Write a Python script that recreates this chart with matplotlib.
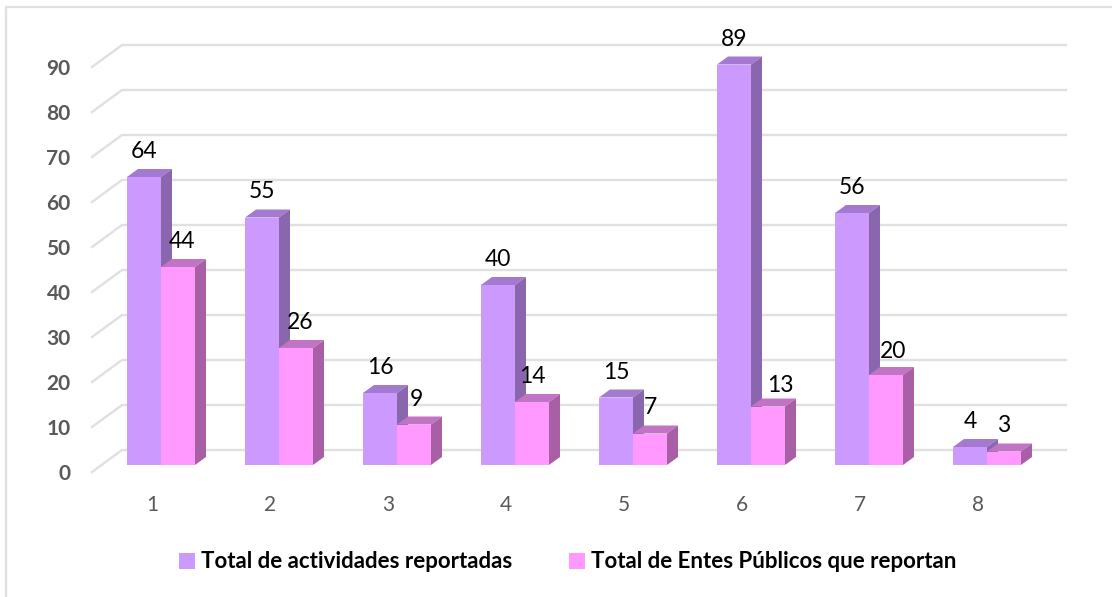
import matplotlib
matplotlib.use('Agg')
import matplotlib.pyplot as plt
from matplotlib.lines import Line2D
from matplotlib.patches import Patch, Polygon
from matplotlib.transforms import Affine2D

categories = [1, 2, 3, 4, 5, 6, 7, 8]
actividades = [64, 55, 16, 40, 15, 89, 56, 4]
entes = [44, 26, 9, 14, 7, 13, 20, 3]
y_ticks = [0, 10, 20, 30, 40, 50, 60, 70, 80, 90]
name_actividades = 'Total de actividades reportadas'
name_entes = 'Total de Entes Públicos que reportan'

plt.rcParams['font.family'] = ['Lato', 'DejaVu Sans']

W, H = 1112, 597
fig = plt.figure(figsize=(W / 100, H / 100), dpi=100)

# outer frame, only left and top are in the picture
fig.add_artist(Line2D([5.5 / W, 5.5 / W, 1], [0, 1 - 7 / H, 1 - 7 / H], transform=fig.transFigure,
                      color='#E0E0E0', linewidth=1.6))

# pixels of the picture
left, right, top, base = 92, 1066, 45, 465
ax = fig.add_axes([left / W, 1 - base / H, (right - left) / W, (base - top) / H])

# one category = 118 px, one unit of value = 4.5 px
px_x = 1 / 118
px_y = 1 / 4.5
ax.set_xlim(1 + (left - 161) * px_x, 1 + (right - 161) * px_x)
ax.set_ylim(0, (base - top) * px_y)
for sp in ax.spines.values():
    sp.set_visible(False)

# walls
for v in y_ticks:
    xl = ax.get_xlim()[0]
    ax.plot([xl, xl + 30 * px_x, ax.get_xlim()[1]],
            [v - 7 * px_y, v + 15 * px_y, v + 15 * px_y],
            color='#E0E0E0', lw=1.7, clip_on=False, zorder=1, solid_joinstyle='round')

ax.set_xticks(categories)
ax.set_yticks(y_ticks)
ax.tick_params(axis='both', length=0)
ax.tick_params(axis='x', pad=21.5, labelsize=15, labelcolor='#595959')
ax.tick_params(axis='y', pad=15.5, labelsize=15, labelcolor='#595959')
shift_y = Affine2D().translate(0, -7)
shift_x = Affine2D().translate(-9, 0)
for t in ax.get_yticklabels():
    t.set_fontweight('bold')
    t.set_transform(t.get_transform() + shift_y)
for t in ax.get_xticklabels():
    t.set_transform(t.get_transform() + shift_x)

bar_w = 34 * px_x
dx = 11 * px_x
dy = 8 * px_y


def draw_bars(xs, values, front, top_c, side_c, z):
    ax.bar(xs, values, width=bar_w, color=front, edgecolor='none', zorder=z)
    for x, v in zip(xs, values):
        x0 = x - bar_w / 2
        x1 = x + bar_w / 2
        ax.add_patch(Polygon([(x0, v), (x0 + dx, v + dy), (x1 + dx, v + dy), (x1, v)],
                             facecolor=top_c, edgecolor='none', zorder=z, clip_on=False))
        ax.add_patch(Polygon([(x1, 0), (x1 + dx, dy), (x1 + dx, v + dy), (x1, v)],
                             facecolor=side_c, edgecolor='none', zorder=z, clip_on=False))


x1s = [c - bar_w / 2 for c in categories]
x2s = [c + bar_w / 2 for c in categories]
draw_bars(x1s, actividades, '#CC99FF', '#A47AD0', '#8A66AE', 2)
draw_bars(x2s, entes, '#FF99FF', '#C274C4', '#A95FA6', 3)

# data labels, a few sit off the default place in the original
nudge = {(1, 0): (4, 0), (1, 1): (4, 0), (1, 2): (2, 0), (1, 5): (12, -5), (1, 6): (7, -2)}
for s, (xs, values) in enumerate([(x1s, actividades), (x2s, entes)]):
    for i, (x, v) in enumerate(zip(xs, values)):
        nx, ny = nudge.get((s, i), (0, 0))
        ax.text(x + nx * px_x, v + (25.5 + ny) * px_y, str(v), ha='center', va='center',
                fontsize=16.5, color='black', zorder=5, clip_on=False)

handles = [Patch(facecolor='#CC99FF', edgecolor='none'), Patch(facecolor='#FF99FF', edgecolor='none')]
leg = ax.legend(handles, [name_actividades, name_entes], ncol=2, frameon=False,
                loc='center', bbox_to_anchor=(568 / W, 1 - 562 / H), bbox_transform=fig.transFigure,
                prop={'weight': 'bold', 'size': 16}, handlelength=0.7, handleheight=0.7,
                handletextpad=0.3, columnspacing=2.55)
for t in leg.get_texts():
    t.set_color('black')

fig.savefig('out.png', dpi=100)
